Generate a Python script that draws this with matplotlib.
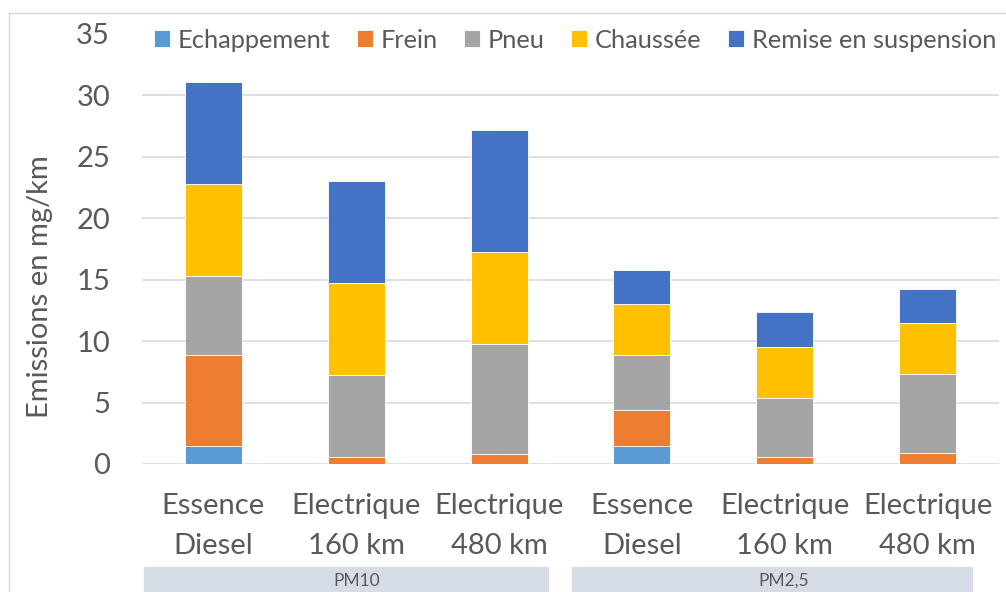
import matplotlib
matplotlib.use("Agg")
import matplotlib.pyplot as plt
from matplotlib.patches import Rectangle
import numpy as np

plt.rcParams['font.family'] = ['Lato', 'DejaVu Sans']

categories = ["Essence\nDiesel", "Electrique\n160 km", "Electrique\n480 km",
              "Essence\nDiesel", "Electrique\n160 km", "Electrique\n480 km"]
groups = ["PM10", "PM2,5"]
series_names = ["Echappement", "Frein", "Pneu", "Chaussée", "Remise en suspension"]
echappement = [1.5, 0.0, 0.0, 1.5, 0.0, 0.0]
frein = [7.4, 0.57, 0.84, 2.88, 0.57, 0.87]
pneu = [6.4, 6.65, 8.96, 4.5, 4.83, 6.46]
chaussee = [7.5, 7.52, 7.49, 4.12, 4.13, 4.13]
remise = [8.3, 8.31, 9.88, 2.8, 2.82, 2.79]
yticks = [0, 5, 10, 15, 20, 25, 30, 35]

colors = ["#5B9BD5", "#ED7D31", "#A5A5A5", "#FFC000", "#4472C4"]
text_color = "#595959"

fig = plt.figure(figsize=(10.06, 5.92), dpi=100)
ax = fig.add_axes([142/1006, 128/592, 857/1006, 430/592])

x = np.arange(len(categories))
bottom = np.zeros(len(categories))
handles = []
for name, vals, col in zip(series_names,
                           [echappement, frein, pneu, chaussee, remise], colors):
    vals = np.array(vals)
    b = ax.bar(x, vals, 0.4, bottom=bottom, color=col, edgecolor="white",
               linewidth=0.6, label=name, zorder=3)
    handles.append(b)
    bottom += vals

ax.set_xlim(-0.5, 5.5)
ax.set_ylim(0, 35)
ax.set_yticks(yticks)
ax.set_yticklabels([str(v) for v in yticks])
for v in yticks[:-1]:
    ax.axhline(v, color="#D9D9D9", linewidth=1.2, zorder=1)
for s in ax.spines.values():
    s.set_visible(False)
ax.tick_params(axis="y", length=0, pad=23, labelsize=21, labelcolor=text_color)
ax.tick_params(axis="x", length=0, pad=21, labelsize=21, labelcolor=text_color)
ax.set_xticks(x)
ax.set_xticklabels(categories, linespacing=1.65)

fig.text(40/1006, 1 - 287/592, "Emissions en mg/km", rotation=90, ha="center",
         va="center", fontsize=21, color=text_color)

leg = fig.legend(handles=handles, labels=series_names, loc="center",
                 bbox_to_anchor=(575/1006, 1 - 40/592), ncol=5, frameon=False,
                 fontsize=18.3, handlelength=0.65, handleheight=0.65,
                 handletextpad=0.3, columnspacing=1.02, labelcolor=text_color,
                 borderpad=0, borderaxespad=0)

# group label boxes
box_color = "#D6DCE5"
fig.patches.append(Rectangle((144/1006, 0), 404/1006, 25/592,
                             transform=fig.transFigure, color=box_color))
fig.patches.append(Rectangle((572/1006, 0), 400/1006, 25/592,
                             transform=fig.transFigure, color=box_color))
fig.text(357/1006, 1 - 581/592, groups[0], ha="center", va="center",
         fontsize=12.5, color=text_color)
fig.text(784/1006, 1 - 581/592, groups[1], ha="center", va="center",
         fontsize=12.5, color=text_color)

# chart frame
fig.add_artist(plt.Line2D([9/1006, 9/1006], [0, 1 - 13/592],
                          transform=fig.transFigure, color="#D9D9D9", lw=1))
fig.add_artist(plt.Line2D([9/1006, 1], [1 - 13/592, 1 - 13/592],
                          transform=fig.transFigure, color="#D9D9D9", lw=1))

fig.savefig("out.png", dpi=100)
